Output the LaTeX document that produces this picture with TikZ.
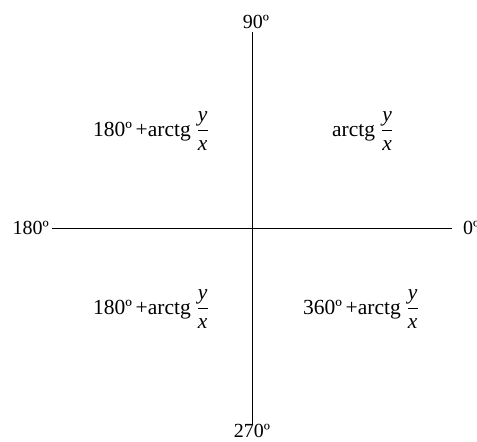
\documentclass[tikz,border=0pt]{standalone}
\usepackage{fontspec}
\usepackage{amsmath}
\setmainfont{Liberation Serif}
\usetikzlibrary{positioning}

\newcommand{\yx}{\dfrac{\textit{y}}{\textit{x}}}

\begin{document}
\begin{tikzpicture}[x=1pt, y=-1pt, font=\fontsize{20}{24}\selectfont,
    axis/.style={line width=1pt},
    ang/.style={inner sep=3pt},
    quad/.style={anchor=base west, inner sep=0pt, font=\fontsize{21.5}{26}\selectfont}]
  \useasboundingbox (0,0) rectangle (477,442);
  % axis ends
  \coordinate (west) at (52,228);
  \coordinate (east) at (452,228);
  \coordinate (north) at (252,32);
  \coordinate (south) at (252,425);

  \node (a180) [ang, anchor=east] at (west) {180º};
  \node (a0) [ang, anchor=west, xshift=8pt] at (east) {0º};
  \node (a90) [ang, anchor=south, xshift=4pt] at (north) {90º};
  \node (a270) [ang, anchor=base] at (252,437) {270º};

  \draw [axis] (west) -- (east);
  \draw [axis] (north) -- (south);

  % quadrants
  \node (q2) [quad] at (93,136) {180º\,+arctg\;$\yx$};
  \node (q1) [quad] at (332,136) {arctg\;$\yx$};
  \node (q3) [quad] at (93,314) {180º\,+arctg\;$\yx$};
  \node (q4) [quad] at (303,314) {360º\,+arctg\;$\yx$};
\end{tikzpicture}
\end{document}
